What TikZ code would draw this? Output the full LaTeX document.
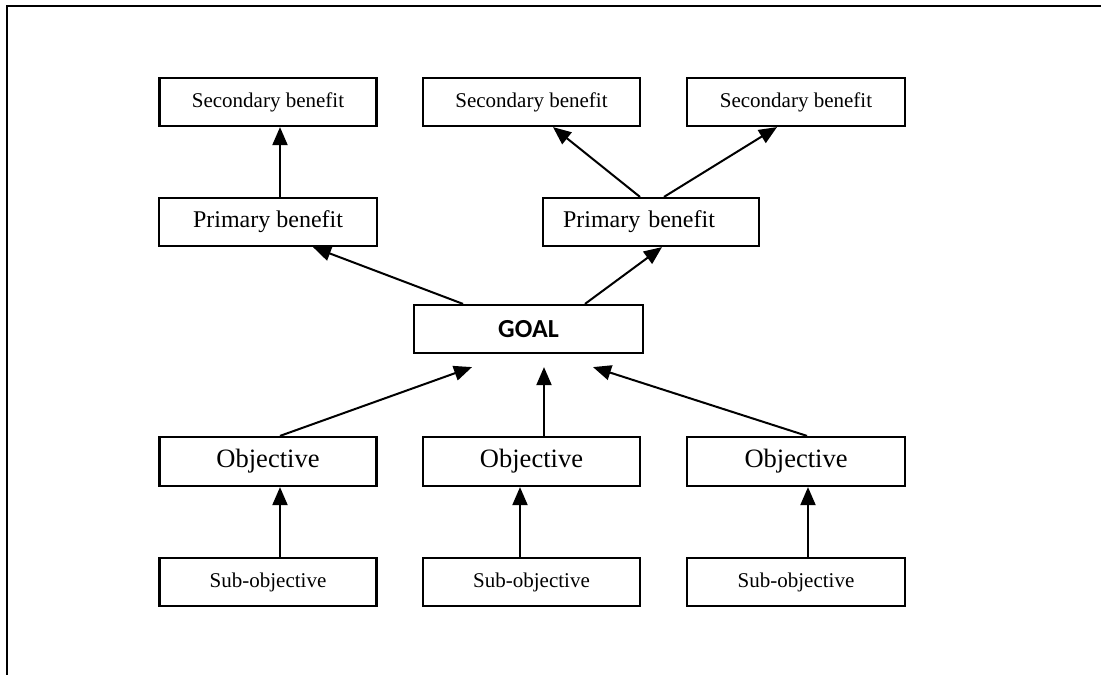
\documentclass[tikz,border=0pt]{standalone}
\usepackage{fontspec}
\setmainfont{Liberation Serif}
\newfontfamily\goalfont{Carlito}
\usetikzlibrary{arrows.meta}
\tikzset{
  box/.style={draw, line width=2.2pt, rectangle, inner sep=0pt, minimum height=48pt, minimum width=217pt},
  arr/.style={line width=2pt, -{Triangle[length=18pt,width=15pt]}},
  fs/.style={font=\fontsize{21}{25}\selectfont},
  fm/.style={font=\fontsize{24}{28}\selectfont},
  fl/.style={font=\fontsize{26.5}{30}\selectfont},
  fg/.style={font=\goalfont\bfseries\fontsize{26}{30}\selectfont},
}
\begin{document}
\begin{tikzpicture}[x=1pt,y=-1pt]
\useasboundingbox (0,0) rectangle (1101,675);
\draw[line width=2.6pt] (7,675) -- (7,6) -- (1101,6);
% top row
\node[box,fs] (sec1) at (268,102) {Secondary benefit};
\node[box,fs] (sec2) at (531.5,102) {Secondary benefit};
\node[box,fs,minimum width=218pt] (sec3) at (796,102) {Secondary benefit};
% primary
\node[box,fm,minimum width=218pt] (pri1) at (268,222) {Primary benefit};
\node[box,fm,minimum width=216pt,text width=176pt,inner xsep=20pt,align=left] (pri2) at (651,222) {Primary benefit};
% goal
\node[box,fg,minimum width=229pt] (goal) at (528.5,329) {GOAL};
% objectives
\node[box,fl,minimum height=49pt] (obj1) at (268,461.5) {Objective};
\node[box,fl,minimum height=49pt] (obj2) at (531.5,461.5) {Objective};
\node[box,fl,minimum height=49pt,minimum width=218pt] (obj3) at (796,461.5) {Objective};
% sub-objectives
\node[box,fs] (sub1) at (268,582) {Sub-objective};
\node[box,fs] (sub2) at (531.5,582) {Sub-objective};
\node[box,fs,minimum width=218pt] (sub3) at (796,582) {Sub-objective};
% connectors
\draw[arr] ([xshift=12pt]pri1.north) -- ([xshift=12pt]sec1.south);
\draw[arr] ([xshift=-11pt]pri2.north) -- ([xshift=21.5pt]sec2.south);
\draw[arr] ([xshift=13pt]pri2.north) -- ([xshift=-19pt]sec3.south);
\draw[arr] ([xshift=-65.5pt]goal.north) -- ([xshift=45pt]pri1.south);
\draw[arr] ([xshift=56.5pt]goal.north) -- ([xshift=11pt]pri2.south);
\draw[arr] ([xshift=12pt]obj1.north) -- ([xshift=-56.5pt,yshift=-13pt]goal.south);
\draw[arr] ([xshift=12.5pt]obj2.north) -- ([xshift=15.5pt,yshift=-13pt]goal.south);
\draw[arr] ([xshift=11pt]obj3.north) -- ([xshift=64.5pt,yshift=-13pt]goal.south);
\draw[arr] ([xshift=12pt]sub1.north) -- ([xshift=12pt]obj1.south);
\draw[arr] ([xshift=-11.5pt]sub2.north) -- ([xshift=-11.5pt]obj2.south);
\draw[arr] ([xshift=12pt]sub3.north) -- ([xshift=12pt]obj3.south);
\end{tikzpicture}
\end{document}
